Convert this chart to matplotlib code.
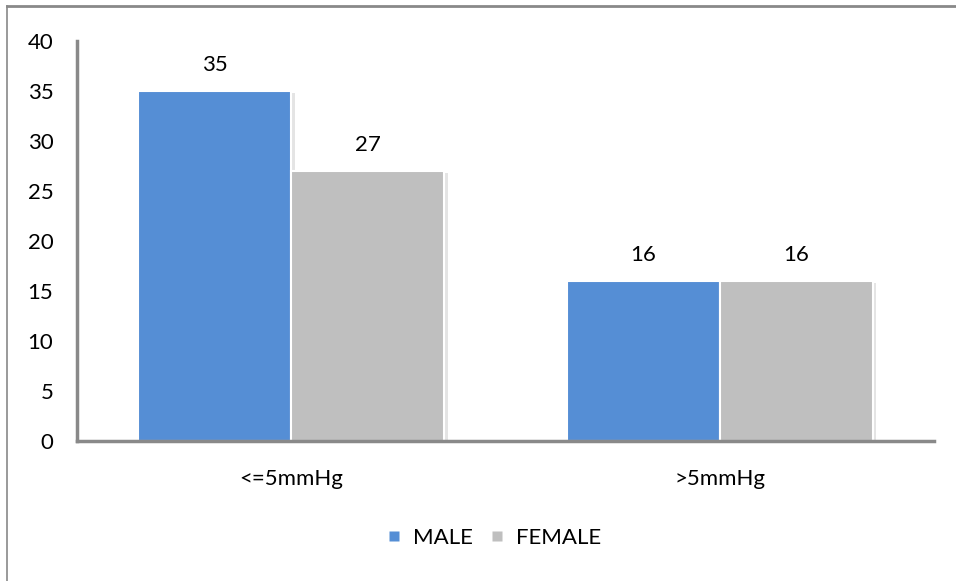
import matplotlib.pyplot as plt
import numpy as np
from matplotlib.lines import Line2D

plt.rcParams['font.family'] = ['Lato', 'DejaVu Sans']

categories = ['<=5mmHg', '>5mmHg']
male = [35, 16]
female = [27, 16]
series_names = ['MALE', 'FEMALE']
colors = ['#558ED5', '#BFBFBF']

fig = plt.figure(figsize=(9.56, 5.81), dpi=100)
W, H = 956, 581
ax = fig.add_axes([77 / W, 1 - 441 / H, (934 - 77) / W, 400 / H])

x = np.arange(len(categories))
width = 0.357
for off, vals, col, name in [(-width / 2, male, colors[0], series_names[0]),
                             (width / 2, female, colors[1], series_names[1])]:
    # faint drop shadow behind each bar
    ax.bar(x + off + 0.008, vals, width, bottom=-0.15, color='#e4e4e4',
           edgecolor='none', zorder=1)
    bars = ax.bar(x + off, vals, width, color=col, edgecolor='white',
                  linewidth=1.5, label=name, zorder=2)
    for b, v in zip(bars, vals):
        ax.text(b.get_x() + b.get_width() / 2, v + 1.6, str(v),
                ha='center', va='bottom', fontsize=16)

ax.set_xlim(-0.5, 1.5)
ax.set_ylim(0, 40)
ax.set_yticks(range(0, 41, 5))
ax.set_xticks(x)
ax.set_xticklabels(categories)
ax.tick_params(axis='both', length=0, labelsize=16)
ax.tick_params(axis='y', pad=17)
ax.tick_params(axis='x', pad=20)
for s in ['top', 'right']:
    ax.spines[s].set_visible(False)
for s in ['left', 'bottom']:
    ax.spines[s].set_color('#898989')
    ax.spines[s].set_linewidth(2.5)
    ax.spines[s].set_zorder(3)

handles = [Line2D([], [], marker='s', linestyle='none', markersize=7,
                  markerfacecolor=c, markeredgecolor='none') for c in colors]
fig.legend(handles, series_names, loc='center', bbox_to_anchor=(493 / W, 1 - 538 / H),
           ncol=2, frameon=False, fontsize=16, handlelength=0.8,
           handletextpad=0.45, columnspacing=0.7)

# outer frame: top and left edges
fig.add_artist(Line2D([7 / W, 1], [1 - 6 / H, 1 - 6 / H], transform=fig.transFigure,
                      color='#898989', linewidth=2))
fig.add_artist(Line2D([7 / W, 7 / W], [0, 1 - 6 / H], transform=fig.transFigure,
                      color='#898989', linewidth=1.2))

fig.savefig('out.png', dpi=100)
